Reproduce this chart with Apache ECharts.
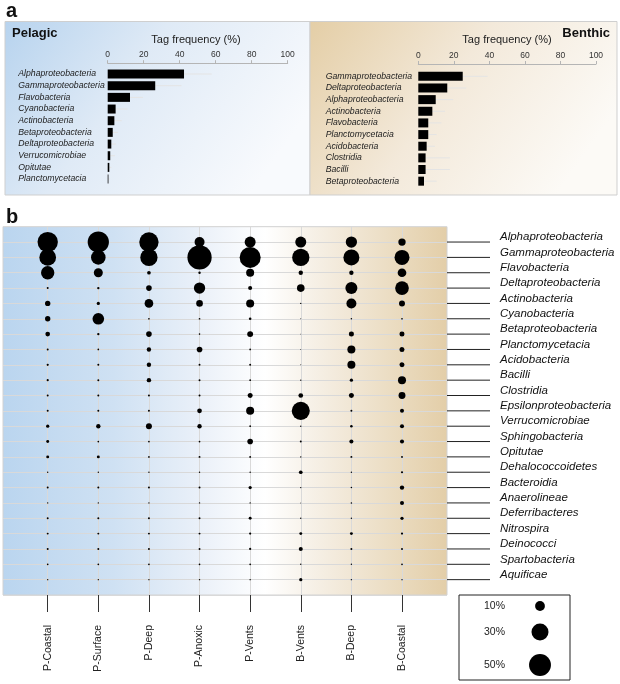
<!DOCTYPE html>
<html>
<head>
<meta charset="utf-8">
<script src="https://cdn.jsdelivr.net/npm/echarts@6/dist/echarts.min.js"></script>
<style>
html, body { margin: 0; padding: 0; background: #fff; }
#chart { width: 620px; height: 684px; }
</style>
</head>
<body>
<div id="chart"></div>
<script>
// panel a: top-10 classes per realm
var pelagicNames = ['Alphaproteobacteria', 'Gammaproteobacteria', 'Flavobacteria', 'Cyanobacteria', 'Actinobacteria',
    'Betaproteobacteria', 'Deltaproteobacteria', 'Verrucomicrobiae', 'Opitutae', 'Planctomycetacia'];
var pelagicFreq = [42.4, 26.4, 12.4, 4.4, 3.7, 2.8, 2.0, 1.4, 0.9, 0.4];
var pelagicUpper = [57.8, 41, 19.6, 11, 7.8, 5.7, 4.6, 4, 2, 1];

var benthicNames = ['Gammaproteobacteria', 'Deltaproteobacteria', 'Alphaproteobacteria', 'Actinobacteria', 'Flavobacteria',
    'Planctomycetacia', 'Acidobacteria', 'Clostridia', 'Bacilli', 'Betaproteobacteria'];
var benthicFreq = [25, 16.3, 9.8, 7.9, 5.6, 5.6, 4.7, 4.1, 4.1, 3.2];
var benthicUpper = [39, 27, 19.6, 15, 13, 10.3, 9.4, 17.8, 17.8, 10.3];

var freqTicks = [0, 100, 20];

// panel b: tag frequency (%) per class, one array per habitat
var habitats = ['P-Coastal', 'P-Surface', 'P-Deep', 'P-Anoxic', 'P-Vents', 'B-Vents', 'B-Deep', 'B-Coastal'];
var classes = ['Alphaproteobacteria', 'Gammaproteobacteria', 'Flavobacteria', 'Deltaproteobacteria', 'Actinobacteria',
    'Cyanobacteria', 'Betaproteobacteria', 'Planctomycetacia', 'Acidobacteria', 'Bacilli', 'Clostridia',
    'Epsilonproteobacteria', 'Verrucomicrobiae', 'Sphingobacteria', 'Opitutae', 'Dehalococcoidetes', 'Bacteroidia',
    'Anaerolineae', 'Deferribacteres', 'Nitrospira', 'Deinococci', 'Spartobacteria', 'Aquificae'];

var pCoastal = [43, 29, 18.5, 0.4, 3, 3, 2.3, 0.4, 0.5, 0.5, 0.4, 0.4, 1.1, 0.9, 0.9, 0.2, 0.4, 0.2, 0.4, 0.4, 0.4, 0.3, 0.2];
var pSurface = [47, 22, 8.4, 0.6, 1.1, 14, 0.6, 0.3, 0.4, 0.4, 0.4, 0.4, 2, 0.3, 0.9, 0.2, 0.4, 0.2, 0.4, 0.4, 0.4, 0.3, 0.2];
var pDeep    = [39, 31, 1.4, 3.3, 7.8, 0.3, 3.3, 2, 2, 2, 0.4, 0.4, 3.7, 0.3, 0.3, 0.2, 0.4, 0.2, 0.4, 0.4, 0.4, 0.3, 0.2];
var pAnoxic  = [10.4, 61, 0.6, 13.3, 4.6, 0.3, 0.25, 3.3, 0.4, 0.4, 0.4, 2.3, 2, 0.3, 0.4, 0.2, 0.4, 0.2, 0.4, 0.4, 0.4, 0.3, 0.2];
var pVents   = [12.6, 46, 6.7, 1.7, 6.7, 0.7, 3.7, 0.3, 0.4, 0.3, 2.6, 6.7, 0.3, 3.3, 0.4, 0.2, 1.1, 0.2, 0.9, 0.5, 0.5, 0.3, 0.2];
var bVents   = [12.6, 31, 2, 6.1, 0.2, 0.1, 0.1, 0.1, 0.1, 0.2, 2.3, 34, 0.2, 0.4, 0.2, 1.4, 0.2, 0.1, 0.2, 0.9, 1.7, 0.2, 1.1];
var bDeep    = [13.3, 26.6, 2, 15, 10.4, 0.25, 2.6, 6.7, 6.7, 1.1, 2.6, 0.4, 0.7, 1.7, 0.4, 0.2, 0.25, 0.25, 0.2, 0.9, 0.4, 0.2, 0.2];
var bCoastal = [5.6, 23.4, 7.8, 19.5, 3.7, 0.3, 2.6, 2.6, 2.6, 6.7, 5, 1.7, 1.7, 1.7, 0.4, 0.5, 2, 1.7, 1.1, 0.5, 0.4, 0.3, 0.2];

var legendValues = [10, 30, 50];
var legendLabels = ['10%', '30%', '50%'];

var FONT = '"Liberation Sans", Arial, sans-serif';

function bubbleSize(v) {
    return 3.1 * Math.sqrt(v);
}

var columns = [pCoastal, pSurface, pDeep, pAnoxic, pVents, bVents, bDeep, bCoastal];
var rowsPadded = [''].concat(classes, ['']);
var bubbleData = [];
columns.forEach(function(col, h) {
    col.forEach(function(v, i) {
        bubbleData.push([h, i + 1, v]);
    });
});
var rowData = classes.map(function(c, i) { return [1, i + 1]; });

function whiskerData(freq, upper) {
    return freq.map(function(f, i) { return [f, i, upper[i]]; });
}

function renderWhisker(params, api) {
    var a = api.coord([api.value(0), api.value(1)]);
    var b = api.coord([api.value(2), api.value(1)]);
    return {
        type: 'line',
        shape: { x1: a[0], y1: a[1], x2: b[0], y2: b[1] },
        style: { stroke: '#e4e4e4', lineWidth: 1 }
    };
}

// leader line from the box edge and the class name beside it
function renderRowLabel(params, api) {
    var p = api.coord([api.value(0), api.value(1)]);
    return {
        type: 'group',
        children: [
            { type: 'line', shape: { x1: p[0], y1: p[1], x2: p[0] + 43, y2: p[1] },
              style: { stroke: '#222', lineWidth: 1 } },
            { type: 'text', x: p[0] + 53, y: p[1] - 5,
              style: { text: classes[params.dataIndex], font: 'italic 11.5px ' + FONT, fill: '#111',
                       textVerticalAlign: 'middle' } }
        ]
    };
}

function freqAxis(gridIndex, offset) {
    return {
        gridIndex: gridIndex, type: 'value', position: 'top', offset: offset,
        min: freqTicks[0], max: freqTicks[1], interval: freqTicks[2],
        axisLine: { show: true, lineStyle: { color: '#b5b5b5' } },
        axisTick: { show: true, length: 3, lineStyle: { color: '#b5b5b5' } },
        axisLabel: { fontSize: 8.5, color: '#333', margin: 4, fontFamily: FONT },
        splitLine: { show: false }
    };
}

function nameAxis(gridIndex, names, margin) {
    return {
        gridIndex: gridIndex, type: 'category', data: names, inverse: true,
        axisLine: { show: false }, axisTick: { show: false },
        axisLabel: { interval: 0, align: 'left', margin: margin, fontSize: 8.7, fontStyle: 'italic', color: '#222', fontFamily: FONT }
    };
}

var chart = echarts.init(document.getElementById('chart'));

var legendGraphics = [
    { type: 'rect', shape: { x: 459, y: 595, width: 111, height: 85 },
      style: { fill: '#fff', stroke: '#222', lineWidth: 1 } }
];
var legendY = [606, 632, 665];
legendValues.forEach(function(v, i) {
    legendGraphics.push({ type: 'text', x: 484, y: legendY[i],
        style: { text: legendLabels[i], font: '10.5px ' + FONT, fill: '#222', textVerticalAlign: 'middle' } });
    legendGraphics.push({ type: 'circle', shape: { cx: 540, cy: legendY[i], r: bubbleSize(v) / 2 },
        style: { fill: '#000' } });
});

var option = {
    animation: false,
    graphic: [
        { type: 'rect', z: -10, shape: { x: 5, y: 21.5, width: 305, height: 173.5 },
          style: { stroke: '#cfcfcf', lineWidth: 1,
              fill: new echarts.graphic.LinearGradient(0, 0, 0.8, 1, [
                  { offset: 0, color: '#b7d3ee' }, { offset: 0.45, color: '#dfeaf6' }, { offset: 1, color: '#f8fafd' }]) } },
        { type: 'rect', z: -10, shape: { x: 310, y: 21.5, width: 307, height: 173.5 },
          style: { stroke: '#cfcfcf', lineWidth: 1,
              fill: new echarts.graphic.LinearGradient(0, 0, 0.8, 1, [
                  { offset: 0, color: '#e4cea6' }, { offset: 0.5, color: '#f3e9da' }, { offset: 1, color: '#fcfaf6' }]) } },
        { type: 'text', x: 6, y: 21, style: { text: 'a', font: 'bold 20px ' + FONT, fill: '#111', textVerticalAlign: 'bottom' } },
        { type: 'text', x: 6, y: 227, style: { text: 'b', font: 'bold 20px ' + FONT, fill: '#111', textVerticalAlign: 'bottom' } },
        { type: 'text', x: 12, y: 33.5, style: { text: 'Pelagic', font: 'bold 13px ' + FONT, fill: '#111', textVerticalAlign: 'middle' } },
        { type: 'text', x: 610, y: 33.5, style: { text: 'Benthic', font: 'bold 13px ' + FONT, fill: '#111', textAlign: 'right', textVerticalAlign: 'middle' } },
        { type: 'text', x: 196, y: 39.5, style: { text: 'Tag frequency (%)', font: '11px ' + FONT, fill: '#222', textAlign: 'center', textVerticalAlign: 'middle' } },
        { type: 'text', x: 507, y: 39.5, style: { text: 'Tag frequency (%)', font: '11px ' + FONT, fill: '#222', textAlign: 'center', textVerticalAlign: 'middle' } }
    ].concat(legendGraphics),
    grid: [
        { left: 107.7, top: 68.2, width: 180, height: 116.7 },
        { left: 418.3, top: 70.5, width: 177.7, height: 116.5 },
        { left: 3, top: 226.7, width: 444, height: 368.3, show: true, borderColor: '#d2d2d2', borderWidth: 1,
          backgroundColor: new echarts.graphic.LinearGradient(0, 0, 1, 0, [
              { offset: 0, color: '#bad5ef' }, { offset: 0.25, color: '#cfe1f3' }, { offset: 0.45, color: '#ebf1f9' },
              { offset: 0.59, color: '#ffffff' }, { offset: 0.7, color: '#f6f0e6' }, { offset: 1, color: '#e3cea8' }]) },
        { left: 47.7, top: 226.7, width: 354.3, height: 368.3 }
    ],
    xAxis: [
        freqAxis(0, 5),
        freqAxis(1, 6.5),
        { gridIndex: 2, type: 'value', min: 0, max: 1, show: false },
        { gridIndex: 3, type: 'category', data: habitats, boundaryGap: false, position: 'bottom',
          axisLine: { show: false },
          axisTick: { show: true, length: 17, alignWithLabel: true, lineStyle: { color: '#333' } },
          axisLabel: { interval: 0, rotate: 90, margin: 30, fontSize: 10.5, color: '#222', fontFamily: FONT },
          splitLine: { show: true, lineStyle: { color: '#d9d9d9', width: 1 } } }
    ],
    yAxis: [
        nameAxis(0, pelagicNames, 89.4),
        nameAxis(1, benthicNames, 92.6),
        { gridIndex: 2, type: 'category', data: rowsPadded, boundaryGap: false, inverse: true,
          axisLine: { show: false }, axisTick: { show: false }, axisLabel: { show: false },
          splitLine: { show: true, interval: 0, lineStyle: { color: '#d9d9d9', width: 1 } } },
        { gridIndex: 3, type: 'category', data: rowsPadded, boundaryGap: false, inverse: true, show: false }
    ],
    series: [
        { type: 'custom', xAxisIndex: 0, yAxisIndex: 0, renderItem: renderWhisker,
          encode: { x: [0, 2], y: 1 }, data: whiskerData(pelagicFreq, pelagicUpper), z: 1 },
        { type: 'bar', xAxisIndex: 0, yAxisIndex: 0, data: pelagicFreq, barWidth: 9,
          itemStyle: { color: '#000' }, z: 2 },
        { type: 'custom', xAxisIndex: 1, yAxisIndex: 1, renderItem: renderWhisker,
          encode: { x: [0, 2], y: 1 }, data: whiskerData(benthicFreq, benthicUpper), z: 1 },
        { type: 'bar', xAxisIndex: 1, yAxisIndex: 1, data: benthicFreq, barWidth: 9,
          itemStyle: { color: '#000' }, z: 2 },
        { type: 'custom', xAxisIndex: 2, yAxisIndex: 2, renderItem: renderRowLabel, clip: false,
          encode: { x: 0, y: 1 }, data: rowData, z: 3 },
        { type: 'scatter', xAxisIndex: 3, yAxisIndex: 3, data: bubbleData,
          symbolSize: function(d) { return bubbleSize(d[2]); },
          itemStyle: { color: '#000', opacity: 1 }, z: 3 }
    ]
};

chart.setOption(option);
</script>
</body>
</html>
